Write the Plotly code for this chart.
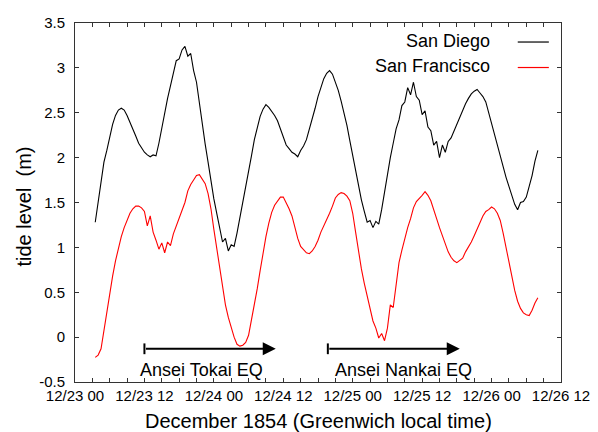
import plotly.graph_objects as go

# time in hours since 12/23 00 (Greenwich local time)
hours = [3.5 + 0.5 * i for i in range(154)]

san_diego = [
    1.28, 1.52, 1.76, 1.95, 2.08, 2.22, 2.37, 2.47, 2.53, 2.55,
    2.53, 2.47, 2.40, 2.32, 2.24, 2.16, 2.11, 2.06, 2.03, 2.01,
    2.03, 2.02, 2.16, 2.33, 2.52, 2.66, 2.80, 2.95, 3.08, 3.10,
    3.20, 3.24, 3.13, 3.16, 2.97, 2.84, 2.60, 2.38, 2.15, 1.95,
    1.74, 1.54, 1.38, 1.20, 1.06, 1.10, 0.96, 1.03, 1.01, 1.16,
    1.33, 1.48, 1.64, 1.83, 2.02, 2.20, 2.34, 2.46, 2.54, 2.59,
    2.56, 2.52, 2.47, 2.41, 2.32, 2.22, 2.14, 2.10, 2.06, 2.04,
    2.01, 2.08, 2.13, 2.20, 2.31, 2.43, 2.55, 2.68, 2.78, 2.88,
    2.94, 2.97, 2.93, 2.84, 2.75, 2.63, 2.50, 2.36, 2.19, 2.02,
    1.86, 1.68, 1.53, 1.40, 1.28, 1.30, 1.22, 1.29, 1.26, 1.42,
    1.62, 1.82, 2.00, 2.16, 2.32, 2.42, 2.58, 2.62, 2.78, 2.70,
    2.84, 2.68, 2.64, 2.48, 2.52, 2.34, 2.30, 2.14, 2.18, 2.00,
    2.14, 2.06, 2.18, 2.22, 2.30, 2.37, 2.45, 2.52, 2.60, 2.66,
    2.71, 2.74, 2.76, 2.72, 2.68, 2.62, 2.50, 2.37, 2.24, 2.12,
    2.02, 1.90, 1.78, 1.68, 1.58, 1.48, 1.42, 1.50, 1.51, 1.56,
    1.68, 1.80, 1.96, 2.08,
]

san_francisco = [
    -0.225, -0.20, -0.13, 0.08, 0.29, 0.49, 0.68, 0.85, 1.00, 1.12,
    1.22, 1.31, 1.38, 1.43, 1.46, 1.46, 1.44, 1.40, 1.24, 1.35,
    1.17, 1.08, 0.98, 1.05, 0.94, 1.06, 1.02, 1.15, 1.24, 1.32,
    1.41, 1.50, 1.63, 1.70, 1.75, 1.80, 1.81, 1.76, 1.71, 1.60,
    1.43, 1.20, 1.00, 0.78, 0.56, 0.36, 0.22, 0.11, 0.00, -0.08,
    -0.10, -0.09, -0.06, 0.02, 0.18, 0.36, 0.54, 0.74, 0.94, 1.12,
    1.27, 1.39, 1.47, 1.52, 1.56, 1.56, 1.50, 1.43, 1.35, 1.22,
    1.10, 1.01, 0.97, 0.94, 0.93, 0.96, 1.01, 1.08, 1.17, 1.24,
    1.30, 1.38, 1.46, 1.55, 1.59, 1.61, 1.60, 1.57, 1.52, 1.38,
    1.17, 0.95, 0.76, 0.60, 0.46, 0.34, 0.18, 0.10, -0.01, 0.04,
    -0.04, 0.10, 0.36, 0.33, 0.58, 0.83, 0.97, 1.10, 1.22, 1.32,
    1.44, 1.51, 1.54, 1.58, 1.62, 1.58, 1.52, 1.43, 1.32, 1.22,
    1.13, 1.03, 0.95, 0.89, 0.85, 0.83, 0.86, 0.88, 0.95, 1.00,
    1.06, 1.13, 1.20, 1.27, 1.35, 1.40, 1.42, 1.45, 1.43, 1.38,
    1.30, 1.16, 1.00, 0.85, 0.67, 0.52, 0.40, 0.32, 0.27, 0.25,
    0.24, 0.30, 0.38, 0.44,
]

tick_hours = list(range(0, 85, 3))
tick_labels = ["12/23 00", "12/23 12", "12/24 00", "12/24 12",
               "12/25 00", "12/25 12", "12/26 00", "12/26 12"]
y_ticks = [-0.5, 0, 0.5, 1, 1.5, 2, 2.5, 3, 3.5]
y_tick_labels = ["-0.5", "0", "0.5", "1", "1.5", "2", "2.5", "3", "3.5"]

# earthquake arrows: label, start hour, end hour, label centre hour
eq_labels = ["Ansei Tokai EQ", "Ansei Nankai EQ"]
eq_start = [12.0, 43.7]
eq_end = [34.7, 66.5]
eq_label_x = [21.8, 56.7]
eq_level = -0.13
eq_label_level = -0.37

FONT = "Liberation Sans, Arial, Helvetica, sans-serif"

fig = go.Figure()
fig.add_trace(go.Scatter(x=hours, y=san_diego, mode="lines", name="San Diego",
                         line=dict(color="black", width=1.1), showlegend=False))
fig.add_trace(go.Scatter(x=hours, y=san_francisco, mode="lines", name="San Francisco",
                         line=dict(color="#ff0000", width=1.1), showlegend=False))

ticktext = []
for h in tick_hours:
    ticktext.append(tick_labels[h // 12] if h % 12 == 0 else "")

axis_common = dict(showgrid=False, zeroline=False, showline=True, linecolor="#333",
                   linewidth=1, mirror="ticks", ticks="inside", ticklen=4,
                   tickcolor="#333", automargin=False,
                   tickfont=dict(family=FONT, size=15, color="black"))

fig.update_xaxes(range=[0, 84], tickvals=tick_hours, ticktext=ticktext, **axis_common)
fig.update_yaxes(range=[-0.5, 3.5], tickvals=y_ticks, ticktext=y_tick_labels,
                 ticklabelstandoff=6, **axis_common)

annotations = []
shapes = []
# axis titles
annotations.append(dict(x=0.5, y=0, xref="paper", yref="paper",
                        text="December 1854 (Greenwich local time)", showarrow=False,
                        xanchor="center", yanchor="middle", yshift=-39,
                        font=dict(family=FONT, size=20, color="black")))
annotations.append(dict(x=0, y=0.5, xref="paper", yref="paper",
                        text="tide level\u00a0 (m)", showarrow=False, textangle=-90,
                        xanchor="center", yanchor="middle", xshift=-52, yshift=-4,
                        font=dict(family=FONT, size=20, color="black")))

for lab, s, e, lx in zip(eq_labels, eq_start, eq_end, eq_label_x):
    annotations.append(dict(x=e, y=eq_level, ax=s, ay=eq_level, axref="x", ayref="y",
                            xref="x", yref="y", text="", showarrow=True,
                            arrowhead=2, arrowsize=1.3, arrowwidth=2, arrowcolor="black",
                            standoff=0))
    shapes.append(dict(type="line", xref="x", yref="y", x0=s, x1=s,
                       y0=eq_level - 0.06, y1=eq_level + 0.06,
                       line=dict(color="black", width=2)))
    annotations.append(dict(x=lx, y=eq_label_level, xref="x", yref="y", text=lab,
                            showarrow=False, font=dict(family=FONT, size=18, color="black")))

# legend drawn to match the reference (text then line sample)
legend_names = ["San Diego", "San Francisco"]
legend_colors = ["black", "#ff0000"]
legend_y = [0.951, 0.880]
for name, col, ly in zip(legend_names, legend_colors, legend_y):
    annotations.append(dict(x=0.857, y=ly, xref="paper", yref="paper", text=name,
                            showarrow=False, xanchor="right", yanchor="middle",
                            font=dict(family=FONT, size=18, color="black")))
    shapes.append(dict(type="line", xref="paper", yref="paper", x0=0.911, x1=0.975,
                       y0=ly - 0.004, y1=ly - 0.004, line=dict(color=col, width=1.2)))

# page body adds an 8px margin, so the figure is sized to fit the window
fig.update_layout(width=590, height=424, margin=dict(l=67, r=37, t=15, b=50),
                  plot_bgcolor="white", paper_bgcolor="white",
                  annotations=annotations, shapes=shapes,
                  font=dict(family=FONT, color="black"))

fig.write_html("out.html")
